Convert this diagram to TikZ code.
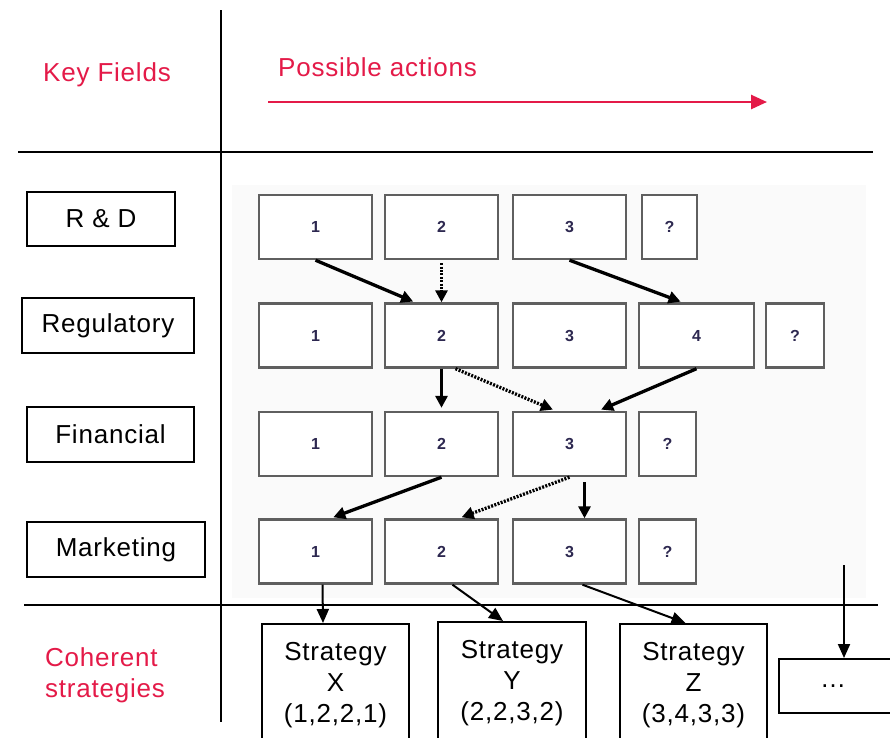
\documentclass[tikz,border=0pt]{standalone}
\usepackage{fontspec}
\setmainfont[LetterSpace=3]{Liberation Sans}
\newfontfamily\digitfont{Liberation Sans}
\usetikzlibrary{arrows.meta,calc}
\definecolor{keyred}{RGB}{228,26,72}
\definecolor{gridgray}{RGB}{95,95,95}
\definecolor{digit}{RGB}{45,40,80}
\definecolor{bgfaint}{RGB}{250,250,250}
\begin{document}
\begin{tikzpicture}[x=1pt,y=-1pt,
  axis/.style={line width=2.6pt,black},
  lbl/.style={draw,line width=2.2pt,font=\fontsize{26}{31}\selectfont,inner sep=0pt},
  redtxt/.style={text=keyred,font=\fontsize{26}{31}\selectfont,inner sep=0pt},
  gbox/.style={draw=gridgray,line width=2.4pt,fill=white,minimum width=113pt,minimum height=64pt,inner sep=0pt,text=digit,font=\digitfont\fontsize{16}{16}\selectfont\bfseries},
  qbox/.style={gbox,minimum width=56pt},
  garrow/.style={line width=3.3pt,-{Triangle[length=12pt,width=12pt]}},
  gdot/.style={garrow,dash pattern=on 2pt off 1.4pt},
  sbox/.style={draw,line width=2pt,fill=white,align=center,inner sep=0pt,font=\fontsize{26}{31}\selectfont},
  barrow/.style={line width=2pt,-{Triangle[length=14pt,width=12pt]}}]
\useasboundingbox (0,0) rectangle (890,737);
\clip (0,0) rectangle (890,737);
\fill[white] (0,0) rectangle (890,737);
\fill[bgfaint] (232,185) rectangle (866,598);

% axes
\draw[axis] (221,10) -- (221,722);
\draw[axis] (18,152) -- (873,152);
\draw[axis] (24,605) -- (878,605);

% header
\node[redtxt] (kf) at (107,75) {Key Fields};
\node[redtxt,anchor=west] (pa) at (278,67) {Possible actions};
\coordinate (pa1) at (268,102);
\coordinate (pa2) at (767,102);
\draw[keyred,line width=2.6pt,-{Triangle[length=16pt,width=14pt]}] (pa1) -- (pa2);
\node[redtxt,anchor=west,align=left] (cs) at (45,675.5) {Coherent\\strategies};

% left labels
\node[lbl,minimum width=148pt,minimum height=54pt] (rd) at (101,219) {R \& D};
\node[lbl,minimum width=172pt,minimum height=55pt] (rg) at (108,325.5) {Regulatory};
\node[lbl,minimum width=167pt,minimum height=55pt] (fn) at (110.5,434.5) {Financial};
\node[lbl,minimum width=178pt,minimum height=55pt] (mk) at (116,549.5) {Marketing};

% grid row 1
\node[gbox] (r1c1) at (315.5,227) {1};
\node[gbox] (r1c2) at (441.5,227) {2};
\node[gbox] (r1c3) at (569.5,227) {3};
\node[qbox,minimum width=55pt] (r1q) at (669.5,227) {?};
% row 2
\node[gbox] (r2c1) at (315.5,335.5) {1};
\node[gbox] (r2c2) at (441.5,335.5) {2};
\node[gbox] (r2c3) at (569.5,335.5) {3};
\node[gbox,minimum width=115pt] (r2c4) at (696.5,335.5) {4};
\node[qbox,minimum width=58pt] (r2q) at (795,335.5) {?};
% row 3
\node[gbox] (r3c1) at (315.5,444) {1};
\node[gbox] (r3c2) at (441.5,444) {2};
\node[gbox] (r3c3) at (569.5,444) {3};
\node[qbox,minimum width=57pt] (r3q) at (667.5,444) {?};
% row 4
\node[gbox] (r4c1) at (315.5,551.5) {1};
\node[gbox] (r4c2) at (441.5,551.5) {2};
\node[gbox] (r4c3) at (569.5,551.5) {3};
\node[qbox,minimum width=57pt] (r4q) at (667.5,551.5) {?};

% grid arrows
\draw[garrow,shorten >=2pt] (r1c1.south) -- ($(r2c2.north west)!0.27!(r2c2.north east)$);
\draw[gdot,shorten <=3pt] (r1c2.south) -- (r2c2.north);
\draw[garrow,shorten >=2pt] (r1c3.south) -- ($(r2c4.north west)!0.38!(r2c4.north east)$);
\draw[garrow,shorten >=3pt] (r2c2.south) -- (r3c2.north);
\draw[gdot,shorten >=3pt] ($(r2c2.south)+(14,0)$) -- ($(r3c3.north west)!0.38!(r3c3.north east)$);
\draw[garrow,shorten >=3pt] (r2c4.south) -- ($(r3c3.north west)!0.75!(r3c3.north east)$);
\draw[garrow,shorten >=3pt] (r3c2.south) -- ($(r4c1.north west)!0.63!(r4c1.north east)$);
\draw[gdot,shorten >=3pt] (r3c3.south) -- ($(r4c2.north west)!0.65!(r4c2.north east)$);
\draw[garrow,shorten <=5pt] ($(r3c3.south)+(15,0)$) -- ($(r4c3.north)+(15,0)$);

% strategies
\node[sbox,minimum width=147pt,minimum height=122pt,anchor=north] (sx) at (335.5,623) {Strategy\\X\\(1,2,2,1)};
\node[sbox,minimum width=148pt,minimum height=122pt,anchor=north] (sy) at (512,621) {Strategy\\Y\\(2,2,3,2)};
\node[sbox,minimum width=147pt,minimum height=122pt,anchor=north] (sz) at (693.5,623) {Strategy\\Z\\(3,4,3,3)};
\node[sbox,minimum width=130pt,minimum height=54pt,anchor=north] (dots) at (844,658) {\dots\hspace*{22pt}};

% bottom arrows
\draw[barrow] ($(r4c1.south)+(7,0)$) -- ($(sx.north)+(-12.5,0)$);
\draw[barrow] ($(r4c2.south)+(11,0)$) -- ($(sy.north)+(-9,0)$);
\draw[barrow] ($(r4c3.south)+(13,0)$) -- ($(sz.north)+(-8,0)$);
\coordinate (dtop) at (844,565);
\draw[barrow] (dtop) -- (dots.north);
\end{tikzpicture}
\end{document}
